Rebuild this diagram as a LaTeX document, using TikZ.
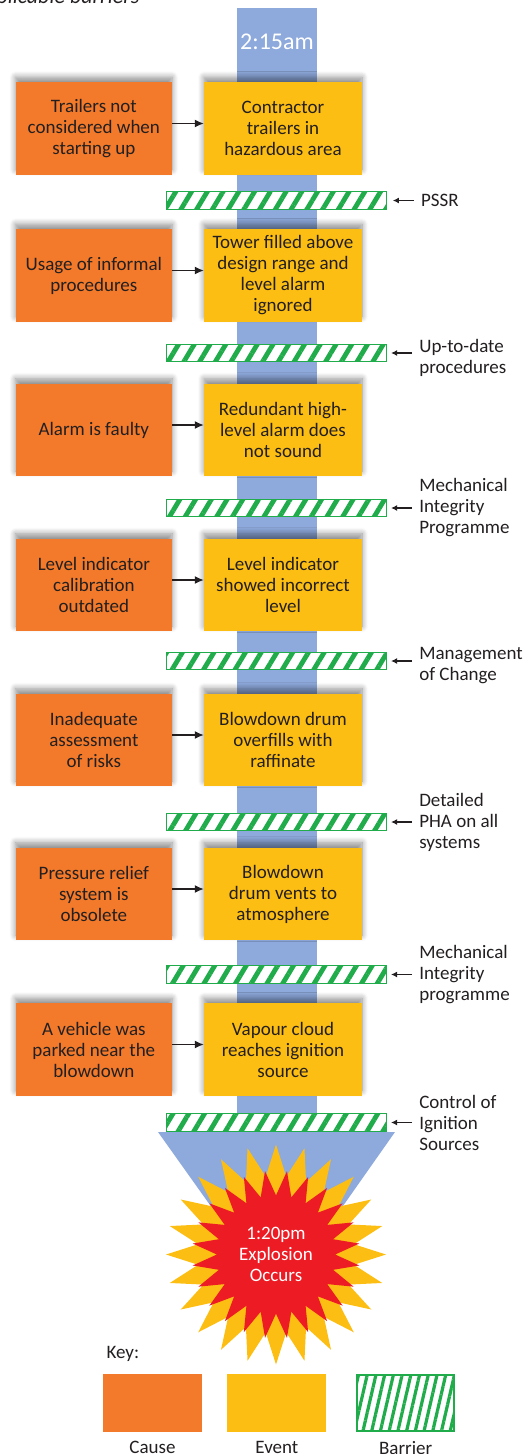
\documentclass[tikz,border=0pt]{standalone}
\usepackage{fontspec}
\setmainfont{Carlito}
\usetikzlibrary{arrows.meta,positioning,shapes.geometric,patterns.meta,shadows.blur}
\definecolor{causeorange}{RGB}{243,122,42}
\definecolor{eventyellow}{RGB}{253,190,20}
\definecolor{flowblue}{RGB}{142,169,219}
\definecolor{barrgreen}{RGB}{32,172,74}
\definecolor{blastred}{RGB}{237,28,36}
\definecolor{inkgray}{RGB}{35,31,32}

\begin{document}
\begin{tikzpicture}[x=1pt,y=-1pt,
      every node/.style={font=\fontsize{19}{21}\selectfont,text=inkgray},
      boxshadow/.style={blur shadow={shadow xshift=0pt,shadow yshift=5pt,
                  shadow blur radius=6pt,shadow blur steps=8,shadow opacity=45}},
      cause/.style={fill=causeorange,minimum width=156.5pt,minimum height=92.5pt,
                  align=center,inner sep=0pt,boxshadow},
      event/.style={fill=eventyellow,minimum width=158pt,minimum height=92.5pt,
                  align=center,inner sep=0pt,boxshadow},
      barrier/.style={draw=barrgreen,line width=1.2pt,preaction={fill=white},
                  pattern={Lines[angle=59,distance=13.5pt,line width=4.8pt]},
                  pattern color=barrgreen,minimum width=220pt,minimum height=17.5pt,inner sep=0pt},
      bartag/.style={align=left,inner xsep=7pt,inner ysep=0pt},
      keycause/.style={fill=causeorange,minimum width=99pt,minimum height=58.5pt},
      keyevent/.style={fill=eventyellow,minimum width=99pt,minimum height=58.5pt},
      keybarrier/.style={draw=barrgreen,line width=2pt,preaction={fill=white},
                  pattern={Lines[angle=77,distance=8.5pt,line width=3.2pt]},
                  pattern color=barrgreen,minimum width=97pt,minimum height=56.5pt},
      ar/.style={-{Latex[length=9pt,width=8pt]},draw=inkgray,line width=1.4pt},
      tagar/.style={-{Latex[length=6pt,width=6pt]},draw=inkgray,line width=1.1pt,shorten >=4pt}
    ]
    \useasboundingbox (0,0) rectangle (531,1454);
    \fill[flowblue] (237,7.5) rectangle (317,1133);
    \fill[flowblue] (158,1132) -- (395,1132) -- (312,1250) -- (242,1250) -- cycle;

    \node[anchor=base east,font=\fontsize{22}{24}\itshape\selectfont] (title) at (143,3.5) {Applicable barriers};
    \node[text=white,font=\fontsize{24}{26}\selectfont] (start) at (277,42) {2:15am};

    \node[event] (e1) at (283,128.5) {Contractor\\trailers in\\hazardous area};
    \node[cause,left=31.5pt of e1] (c1) {Trailers not\\considered when\\starting up};
    \node[event] (e2) at (283,275.5) {Tower filled above\\design range and\\level alarm\\ignored};
    \node[cause,left=31.5pt of e2] (c2) {Usage of informal\\procedures};
    \node[event] (e3) at (283,430) {Redundant high-\\level alarm does\\not sound};
    \node[cause,left=31.5pt of e3] (c3) {Alarm is faulty};
    \node[event] (e4) at (283,585) {Level indicator\\showed incorrect\\level};
    \node[cause,left=31.5pt of e4] (c4) {Level indicator\\calibration\\outdated};
    \node[event] (e5) at (283,740) {Blowdown drum\\overfills with\\raffinate};
    \node[cause,left=31.5pt of e5] (c5) {Inadequate\\assessment\\of risks};
    \node[event] (e6) at (283,894) {Blowdown\\drum vents to\\atmosphere};
    \node[cause,left=31.5pt of e6] (c6) {Pressure relief\\system is\\obsolete};
    \node[event] (e7) at (283,1049.5) {Vapour cloud\\reaches ignition\\source};
    \node[cause,left=31.5pt of e7] (c7) {A vehicle was\\parked near the\\blowdown};
    \foreach \i in {1,...,7} \draw[ar] ([yshift=5pt]c\i.east) -- ([yshift=5pt]e\i.west);

    \node[barrier] (b1) at (276.5,200.5) {};
    \node[barrier] (b2) at (276.5,353) {};
    \node[barrier] (b3) at (276.5,508) {};
    \node[barrier] (b4) at (276.5,661) {};
    \node[barrier] (b5) at (276.5,822) {};
    \node[barrier] (b6) at (276.5,974.5) {};
    \node[barrier] (b7) at (276.5,1122.5) {};
    \node[bartag,right=25pt of b1] (t1) {PSSR};
    \node[bartag,right=25pt of b2,yshift=-5pt] (t2) {Up-to-date\\procedures};
    \node[bartag,right=25pt of b3] (t3) {Mechanical\\Integrity\\Programme};
    \node[bartag,right=25pt of b4,yshift=-5pt] (t4) {Management\\of Change};
    \node[bartag,right=25pt of b5] (t5) {Detailed\\PHA on all\\systems};
    \node[bartag,right=25pt of b6] (t6) {Mechanical\\Integrity\\programme};
    \node[bartag,right=25pt of b7] (t7) {Control of\\Ignition\\Sources};
    \foreach \i in {1,...,7} \draw[tagar] (b\i.east -| t\i.west) -- (b\i.east);

    \node[star,star points=24,star point ratio=1.4,minimum size=220pt,
          fill=eventyellow,inner sep=0pt] (blast) at (276,1254.5) {};
    \node[star,star points=24,star point ratio=1.42,minimum size=168pt,shape border rotate=7.5,
          fill=blastred,inner sep=0pt,text=white,align=center] (blastcore) at (blast) {1:20pm\\Explosion\\Occurs};

    \node[anchor=west] (key) at (103,1354) {Key:};
    \node[keycause] (kc) at (152.5,1403) {};
    \node[keyevent,right=25pt of kc] (ke) {};
    \node[keybarrier,right=29pt of ke] (kb) {};
    \node[below=5pt of kc] (kcl) {Cause};
    \node[below=5pt of ke] (kel) {Event};
    \node[below=5pt of kb] (kbl) {Barrier};
  \end{tikzpicture}
\end{document}
